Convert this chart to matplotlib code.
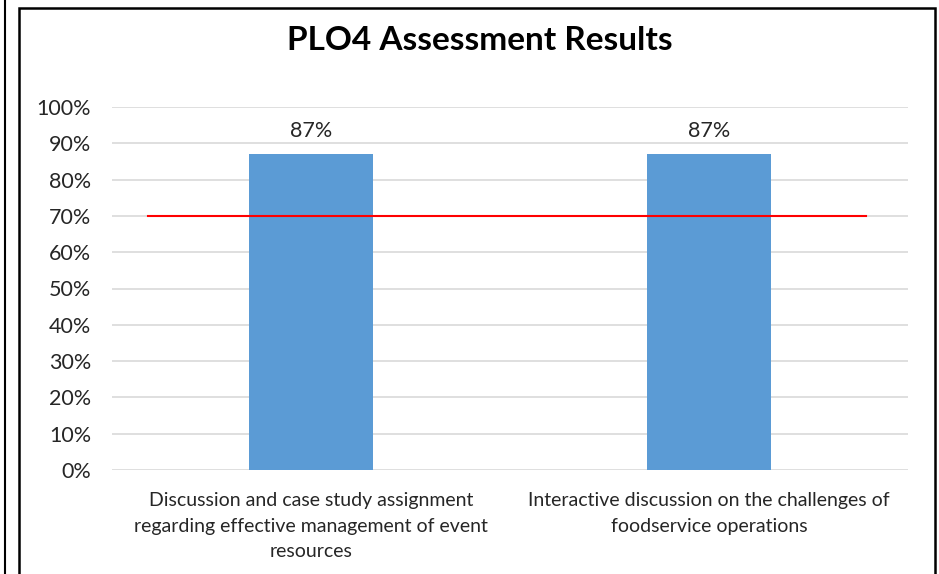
import matplotlib.pyplot as plt
from matplotlib.patches import Rectangle
from matplotlib.lines import Line2D
from matplotlib.ticker import PercentFormatter

plt.rcParams['font.family'] = ['Lato', 'DejaVu Sans']

categories = ["Discussion and case study assignment\nregarding effective management of event\nresources",
              "Interactive discussion on the challenges of\nfoodservice operations"]
scores = [87, 87]
target = 70

W, H = 939, 574
fig = plt.figure(figsize=(W / 100, H / 100), dpi=100)
ax = fig.add_axes([112 / W, 1 - 470 / H, 796 / W, 363 / H])

# outer borders
fig.add_artist(Line2D([5 / W, 5 / W], [0, 1], color="black", lw=1.5))
fig.add_artist(Rectangle((19 / W, -0.05), (935 - 19) / W, 1.05 - 8 / H,
                         fill=False, ec="black", lw=1.8, transform=fig.transFigure))

x = range(len(categories))
bars = ax.bar(x, scores, width=0.31, color="#5b9bd5", zorder=2)
for b, v in zip(bars, scores):
    ax.text(b.get_x() + b.get_width() / 2, v + 3.5, f"{v}%", ha="center", va="bottom",
            fontsize=15.5, color="#262626")

ax.axhline(target, xmin=0.045, xmax=0.947, color="red", lw=1.5, zorder=3)

ax.set_xlim(-0.5, 1.5)
ax.set_ylim(0, 100)
ax.set_yticks(range(0, 101, 10))
ax.yaxis.set_major_formatter(PercentFormatter(decimals=0))
ax.set_xticks(list(x))
ax.set_xticklabels(categories, fontsize=14, color="#262626", linespacing=1.6)
ax.tick_params(axis="y", labelsize=15.5, labelcolor="#262626", length=0, pad=15)
ax.tick_params(axis="x", length=0, pad=16)
ax.grid(axis="y", color="#d9d9d9", lw=1.2, zorder=0)
for s in ax.spines.values():
    s.set_visible(False)

fig.text(480 / W, 1 - 40 / H, "PLO4 Assessment Results", ha="center", va="center",
         fontsize=24, fontweight="bold", color="black")

fig.savefig("out.png", dpi=100)
